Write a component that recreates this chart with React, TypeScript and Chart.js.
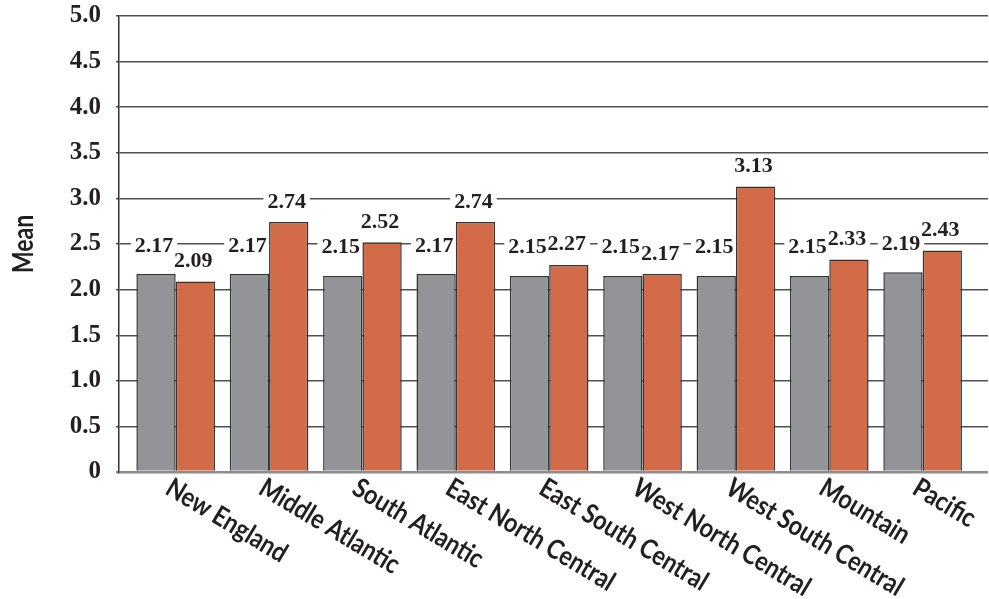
import React, { useEffect, useRef } from "react";
import { Chart, registerables } from "chart.js";

Chart.register(...registerables);

// Census divisions along the horizontal axis
const categories = [
  "New England",
  "Middle Atlantic",
  "South Atlantic",
  "East North Central",
  "East South Central",
  "West North Central",
  "West South Central",
  "Mountain",
  "Pacific",
];

// Mean scores per division
const grayValues = [2.17, 2.17, 2.15, 2.17, 2.15, 2.15, 2.15, 2.15, 2.19];
const orangeValues = [2.09, 2.74, 2.52, 2.74, 2.27, 2.17, 3.13, 2.33, 2.43];

// Vertical axis range
const yMin = 0;
const yMax = 5;
const yStep = 0.5;

const TEXT = "#231f20";
const SANS = 'Lato, "Open Sans", sans-serif';
const SERIF = '"Liberation Serif", "Times New Roman", serif';

// Value labels above each bar, on a white patch that interrupts the grid
const valueLabels = {
  id: "valueLabels",
  beforeDatasetsDraw(chart: any) {
    const ctx = chart.ctx;
    ctx.save();
    ctx.font = `bold 22px ${SERIF}`;
    ctx.textAlign = "center";
    ctx.textBaseline = "alphabetic";
    const items: { text: string; x: number; y: number; w: number }[] = [];
    chart.data.datasets.forEach((ds: any, di: number) => {
      const meta = chart.getDatasetMeta(di);
      const rise = di === 0 ? 30 : 22;
      meta.data.forEach((bar: any, i: number) => {
        const text = ds.data[i].y.toFixed(2);
        const w = ctx.measureText(text).width;
        items.push({ text, x: bar.x - 2, y: bar.y - rise, w });
      });
    });
    // patches first, then the text, so neighbouring labels never hide each other
    ctx.fillStyle = "#ffffff";
    items.forEach((it) => ctx.fillRect(it.x - it.w / 2 - 4, it.y - 10, it.w + 8, 20));
    ctx.fillStyle = TEXT;
    items.forEach((it) => ctx.fillText(it.text, it.x, it.y + 7.5));
    ctx.restore();
  },
};

// Slanted category names and the narrow axis title
const axisText = {
  id: "axisText",
  afterDraw(chart: any) {
    const ctx = chart.ctx;
    const xs = chart.scales.x;
    const area = chart.chartArea;
    ctx.save();
    ctx.fillStyle = TEXT;
    ctx.font = `bold 27px ${SANS}`;
    ctx.textAlign = "left";
    ctx.textBaseline = "alphabetic";
    categories.forEach((name, i) => {
      const cx = xs.getPixelForValue(i);
      ctx.save();
      ctx.translate(cx - 12, area.bottom + 21);
      ctx.rotate((31 * Math.PI) / 180);
      ctx.scale(0.86, 1);
      ctx.fillText(name, 0, 0);
      ctx.restore();
    });

    ctx.font = `bold 28px ${SANS}`;
    ctx.textAlign = "center";
    ctx.save();
    ctx.translate(33, (area.top + area.bottom) / 2);
    ctx.rotate(-Math.PI / 2);
    ctx.scale(0.82, 1);
    ctx.fillText("Mean", 0, 0);
    ctx.restore();
    ctx.restore();
  },
};

export default function App() {
  const canvasRef = useRef<HTMLCanvasElement | null>(null);

  useEffect(() => {
    if (!canvasRef.current) return;
    const chart = new Chart(canvasRef.current, {
      type: "bar",
      data: {
        datasets: [
          {
            label: "All divisions",
            data: grayValues.map((v, i) => ({ x: i, y: v })),
            backgroundColor: "#939498",
            borderColor: "#333333",
            borderWidth: 1.5,
          },
          {
            label: "Division",
            data: orangeValues.map((v, i) => ({ x: i, y: v })),
            backgroundColor: "#d36a48",
            borderColor: "#333333",
            borderWidth: 1.5,
          },
        ],
      },
      options: {
        responsive: false,
        animation: false,
        devicePixelRatio: 1,
        categoryPercentage: 0.842,
        barPercentage: 1,
        layout: { padding: { left: 0, right: 1, top: 16, bottom: 0 } },
        plugins: {
          legend: { display: false },
          tooltip: { enabled: false },
        },
        scales: {
          x: {
            type: "linear",
            min: -0.607,
            max: 8.7,
            offset: false,
            grid: { display: false },
            border: { display: false },
            ticks: { display: false },
            afterBuildTicks(s: any) {
              s.ticks = categories.map((_, i) => ({ value: i }));
            },
            afterFit(s: any) {
              s.height = 127;
            },
          },
          y: {
            min: yMin,
            max: yMax,
            border: { color: "#333333", width: 1.5 },
            grid: {
              color: (c: any) => (c.tick && c.tick.value === 0 ? "#8c8c8c" : "#505050"),
              lineWidth: (c: any) => (c.tick && c.tick.value === 0 ? 2.5 : 1.4),
              tickLength: 3,
              drawTicks: true,
            },
            ticks: {
              stepSize: yStep,
              padding: 15,
              color: TEXT,
              font: { family: SERIF, size: 25, weight: "bold", lineHeight: 0.05 },
              callback: (v: any) => (Number(v) === 0 ? "0" : Number(v).toFixed(1)),
            },
            afterFit(s: any) {
              s.width = 119;
            },
          },
        },
      },
      plugins: [valueLabels, axisText],
    } as any);
    return () => chart.destroy();
  }, []);

  return (
    <div style={{ position: "absolute", left: 0, top: 0, width: 989, height: 599, background: "#fff" }}>
      <canvas ref={canvasRef} width={989} height={599} />
    </div>
  );
}
